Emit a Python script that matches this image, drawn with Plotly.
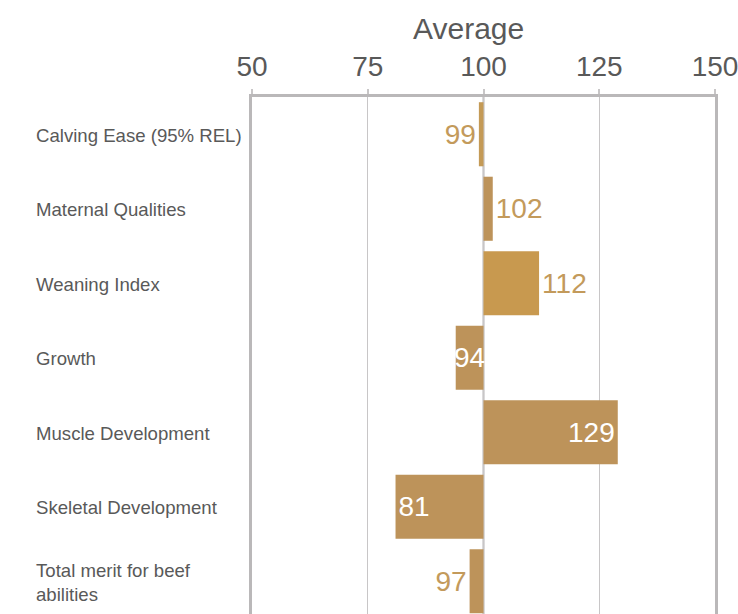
import plotly.graph_objects as go

# Index scores relative to the breed average (100)
traits = [
    "Calving Ease (95% REL)",
    "Maternal Qualities",
    "Weaning Index",
    "Growth",
    "Muscle Development",
    "Skeletal Development",
    "Total merit for beef abilities",
]
trait_labels = [
    "Calving Ease (95% REL)",
    "Maternal Qualities",
    "Weaning Index",
    "Growth",
    "Muscle Development",
    "Skeletal Development",
    "Total merit for beef<br>abilities",
]
scores = [99, 102, 112, 94, 129, 81, 97]
average = 100
tick_values = [50, 75, 100, 125, 150]

bar_colors = ["#C49A56", "#BD935A", "#C8994F", "#BD935A", "#BD935A", "#BD935A", "#BD935A"]
# where each value label sits: outside the bar, inside at its end, or centred on it
label_modes = ["outside", "outside", "outside", "center", "inside", "inside", "outside"]

W, H = 738, 614
L, R, T, B = 252, 20, 97, 0
plot_w = W - L - R
plot_h = H - T - B
VALUE_FONT = "Liberation Sans"

fig = go.Figure()
fig.add_trace(go.Bar(
    y=traits,
    x=[s - average for s in scores],
    base=average,
    orientation="h",
    width=0.86,
    marker=dict(color=bar_colors, line=dict(width=0)),
    text=["" if m == "center" else str(s) for s, m in zip(scores, label_modes)],
    textposition=["inside" if m == "center" else m for m in label_modes],
    textangle=0,
    insidetextanchor="end",
    constraintext="none",
    cliponaxis=False,
    insidetextfont=dict(family=VALUE_FONT, size=28, color="#FFFFFF"),
    outsidetextfont=dict(family=VALUE_FONT, size=28, color="#C39A5B"),
    hoverinfo="skip",
))

# Short bars get their value centred on the bar
for name, s, m in zip(traits, scores, label_modes):
    if m == "center":
        fig.add_annotation(
            x=(s + average) / 2, xref="x", xanchor="center",
            y=name, yref="y", yanchor="middle",
            text=str(s), showarrow=False,
            font=dict(family=VALUE_FONT, size=28, color="#FFFFFF"),
        )

# Category names, left aligned in the margin
for name, lab in zip(traits, trait_labels):
    fig.add_annotation(
        x=(33 - L) / plot_w, xref="paper", xanchor="left",
        y=name, yref="y", yanchor="middle", yshift=-1,
        text=lab, showarrow=False, align="left",
        font=dict(family="Liberation Sans", size=18.6, color="#595959"),
    )

# Axis title above the tick labels
fig.add_annotation(
    x=(470 - L) / plot_w, xref="paper", xanchor="center",
    y=1 + (T - 29) / plot_h, yref="paper", yanchor="middle",
    text="Average", showarrow=False,
    font=dict(family="Liberation Sans", size=30, color="#595959"),
)

fig.update_layout(
    width=W, height=H,
    margin=dict(l=L, r=R, t=T, b=B, pad=0),
    paper_bgcolor="white", plot_bgcolor="white",
    showlegend=False,
    bargap=0.14,
    xaxis=dict(
        side="top", range=[50, 150],
        tickmode="array", tickvals=tick_values,
        ticktext=[str(v) for v in tick_values],
        tickfont=dict(family="Liberation Sans", size=28, color="#595959"),
        ticklabeloverflow="allow", ticklabelstandoff=2,
        showgrid=True, gridcolor="#C8C6C7", gridwidth=1,
        ticks="outside", ticklen=5, tickcolor="#C8C6C7", tickwidth=2,
        showline=True, linecolor="#BAB8B9", linewidth=3, mirror=False,
        zeroline=False, fixedrange=True,
    ),
    yaxis=dict(
        type="category", categoryorder="array", categoryarray=traits,
        range=[6.44, -0.5],
        showticklabels=False, ticks="",
        showgrid=False, zeroline=False,
        showline=True, linecolor="#BAB8B9", linewidth=3, mirror=True,
        fixedrange=True,
    ),
)

# Reference line at the average
fig.add_shape(type="line", xref="x", yref="paper", x0=average, x1=average,
              y0=0, y1=1, line=dict(color="#B8B6B7", width=2), layer="below")

fig.write_html("out.html")
